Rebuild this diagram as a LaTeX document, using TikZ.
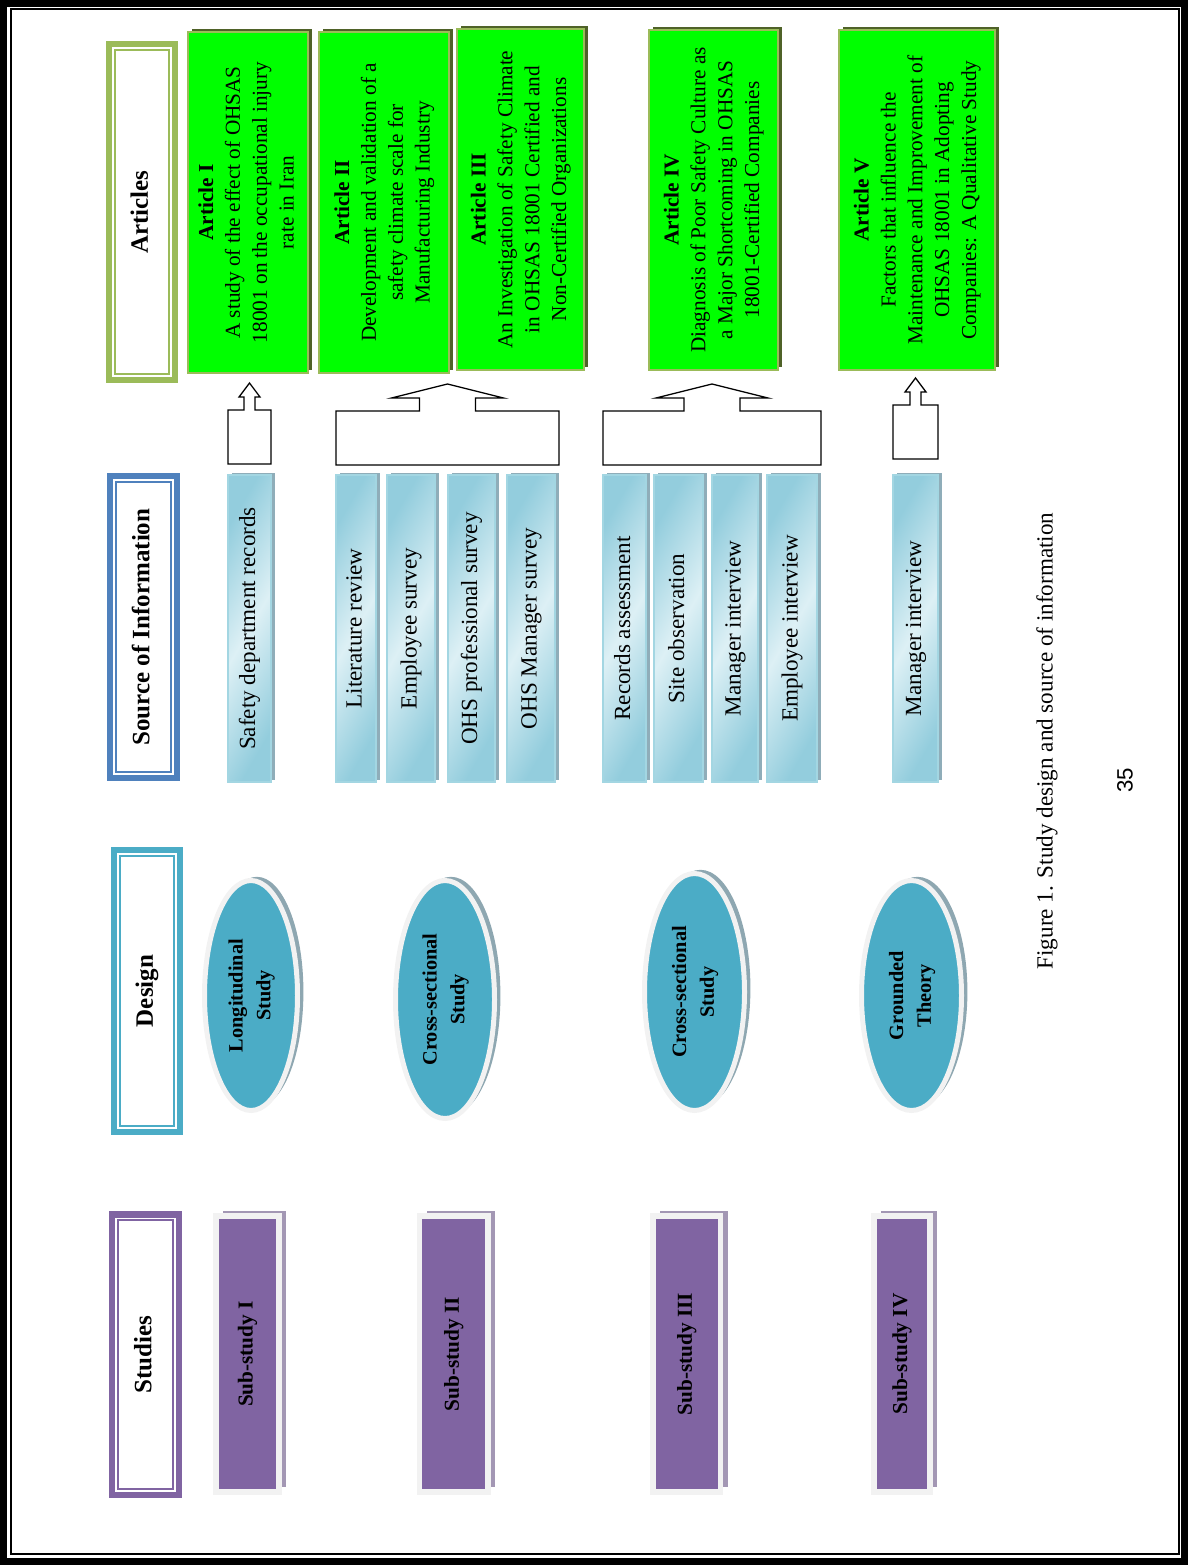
\documentclass[tikz,border=0pt]{standalone}
\usepackage{fontspec}
\setmainfont{Liberation Serif}
\setsansfont{Liberation Sans}
\usepackage{graphicx}
\usetikzlibrary{shapes.geometric,shadows,calc}

\definecolor{artgreen}{HTML}{00FF00}
\definecolor{artedge}{HTML}{9BBB59}
\definecolor{artshadow}{HTML}{4F6228}
\definecolor{hdrgreen}{HTML}{9BBB59}
\definecolor{hdrblue}{HTML}{4F81BD}
\definecolor{hdrteal}{HTML}{4BACC6}
\definecolor{hdrpurple}{HTML}{8064A2}
\definecolor{bardark}{HTML}{93CDDD}
\definecolor{barlight}{HTML}{DDF0F5}
\definecolor{baredge}{HTML}{A3D6E2}
\definecolor{barshadow}{HTML}{8FADB9}
\definecolor{desteal}{HTML}{4BACC6}
\definecolor{desshadow}{HTML}{8EA7B1}
\definecolor{rimgray}{HTML}{F2F2F2}
\definecolor{subpurple}{HTML}{8064A2}
\definecolor{subshadow}{HTML}{A397B4}

\newcommand{\pxu}{0.019cm}
\newcommand{\vlines}[1]{\rotatebox{90}{\begin{tabular}{@{}c@{}}#1\end{tabular}}}

% single block arrow standing on one bar
\newcommand{\liftarrow}[2]{%
  \coordinate (bl) at ($(#1.north west)+(0,-#2)$);
  \coordinate (br) at ($(#1.north east)+(0,-#2)$);
  \coordinate (bm) at ($(bl)!0.5!(br)$);
  \draw[blockarrow] (bl) -- ++(0,-54) -- ($(bm)+(-5.5,-54)$) -- ++(0,-13) -- ++(-5,0)
    -- ($(bm)+(0,-81)$) -- ($(bm)+(10.5,-67)$) -- ++(-5,0) -- ++(0,13)
    -- ($(br)+(0,-54)$) -- (br) -- cycle;}

% wide block arrow over a group of bars
\newcommand{\fanarrow}[2]{%
  \coordinate (bl) at ($(#1.north west)+(0,-10)$);
  \coordinate (br) at ($(#2.north east)+(4,-10)$);
  \coordinate (bm) at ($(bl)!0.5!(br)$);
  \draw[blockarrow] (bl) -- ++(0,-54) -- ($(bm)+(-28,-54)$) -- ++(0,-13) -- ++(-28,0)
    -- ($(bm)+(0,-81)$) -- ($(bm)+(56,-67)$) -- ++(-28,0) -- ++(0,13)
    -- ($(br)+(0,-54)$) -- (br) -- cycle;}

\begin{document}
\begin{tikzpicture}[x=0.019cm, y=-0.019cm,
    sz/.style 2 args={minimum width=#1*\pxu, minimum height=#2*\pxu},
    hdr/.style={draw=#1, line width=3.5pt, fill=white, inner sep=0pt, outer sep=0pt,
      font=\fontsize{13.5}{16}\selectfont\bfseries},
    hdrin/.style={draw=#1, line width=1.1pt},
    article/.style={draw=artedge, line width=0.8pt, fill=artgreen, inner sep=0pt,
      font=\fontsize{11.5}{14.5}\selectfont,
      general shadow={fill=artshadow, shadow xshift=2.2pt, shadow yshift=1.6pt}},
    srcbar/.style={draw=baredge, line width=0.8pt, left color=bardark, right color=bardark,
      middle color=barlight, shading angle=60, inner sep=0pt, outer sep=0pt,
      font=\fontsize{12.5}{15}\selectfont,
      general shadow={fill=barshadow, shadow xshift=2.4pt, shadow yshift=1.2pt}},
    design/.style={ellipse, draw=rimgray, line width=2.7pt, fill=desteal, inner sep=0pt,
      font=\fontsize{11}{15}\selectfont\bfseries,
      general shadow={fill=desshadow, shadow xshift=3.2pt, shadow yshift=2pt}},
    substudy/.style={draw=rimgray, line width=3.2pt, fill=subpurple, inner sep=0pt,
      font=\fontsize{11.5}{14}\selectfont\bfseries,
      general shadow={fill=subshadow, shadow xshift=3.8pt, shadow yshift=2.7pt}},
    blockarrow/.style={draw=black, line width=0.7pt, fill=white}]

  \useasboundingbox (0,0) rectangle (1188,1565);
  \draw[line width=3.8pt] (3.5,3.5) rectangle (1184.5,1561.5);
  \draw[line width=1.1pt] (11,9) rectangle (1179,1554);

  % column headers
  \node[hdr=hdrgreen, sz={65.5}{335.5}] (hart) at (142,212) {\vlines{Articles}};
  \node[hdr=hdrblue, sz={66.5}{301.5}] (hsrc) at (143.5,627) {\vlines{Source of Information}};
  \node[hdr=hdrteal, sz={65.5}{281.5}] (hdes) at (147,991) {\vlines{Design}};
  \node[hdr=hdrpurple, sz={66.5}{280.5}] (hstu) at (145.5,1354.5) {\vlines{Studies}};
  \foreach \h/\c in {hart/hdrgreen, hsrc/hdrblue, hdes/hdrteal, hstu/hdrpurple}
    \draw[hdrin=\c] ($(\h.north west)+(6,6)$) rectangle ($(\h.south east)+(-6,-6)$);

  % articles
  \node[article, sz={120}{341}] (art1) at (248,202.5)
    {\vlines{\textbf{Article I}\\A study of the effect of OHSAS\\18001 on the occupational injury\\rate in Iran}};
  \node[article, sz={130}{341}] (art2) at (384,202.5)
    {\vlines{\textbf{Article II}\\Development and validation of a\\safety climate scale for\\Manufacturing Industry}};
  \node[article, sz={127}{341}] (art3) at (520.5,199.5)
    {\vlines{\textbf{Article III}\\An Investigation of Safety Climate\\in OHSAS 18001 Certified and\\Non-Certified Organizations}};
  \node[article, sz={129}{340}] (art4) at (713.5,200)
    {\vlines{\textbf{Article IV}\\Diagnosis of Poor Safety Culture as\\a Major Shortcoming in OHSAS\\18001-Certified Companies}};
  \node[article, sz={156}{340}] (art5) at (917,200)
    {\vlines{\textbf{Article V}\\Factors that influence the\\Maintenance and Improvement of\\OHSAS 18001 in Adopting\\Companies: A Qualitative Study}};

  % sources of information
  \node[srcbar, sz={43}{307}] (sdr) at (249.5,628.5) {\vlines{Safety department records}};
  \node[srcbar, sz={40}{307}] (lit) at (356,628.5) {\vlines{Literature review}};
  \node[srcbar, sz={48}{307}] (emps) at (411,628.5) {\vlines{Employee survey}};
  \node[srcbar, sz={47}{307}] (ohsp) at (471.5,628.5) {\vlines{OHS professional survey}};
  \node[srcbar, sz={48}{307}] (ohsm) at (531,628.5) {\vlines{OHS Manager survey}};
  \node[srcbar, sz={43}{307}] (reca) at (624.5,628.5) {\vlines{Records assessment}};
  \node[srcbar, sz={49}{307}] (site) at (678.5,628.5) {\vlines{Site observation}};
  \node[srcbar, sz={46}{307}] (mgri) at (735,628.5) {\vlines{Manager interview}};
  \node[srcbar, sz={50}{307}] (empi) at (792,628.5) {\vlines{Employee interview}};
  \node[srcbar, sz={45}{307}] (mgrt) at (915.5,628.5) {\vlines{Manager interview}};

  \liftarrow{sdr}{11}
  \fanarrow{lit}{ohsm}
  \fanarrow{reca}{empi}
  \liftarrow{mgrt}{16}

  % design
  \node[design, sz={93}{230}] (des1) at (251,995.5) {\vlines{Longitudinal\\Study}};
  \node[design, sz={99}{238}] (des2) at (445,999.5) {\vlines{Cross-sectional\\Study}};
  \node[design, sz={100}{237}] (des3) at (694.5,992) {\vlines{Cross-sectional\\Study}};
  \node[design, sz={100}{230}] (des4) at (911.5,995.5) {\vlines{Grounded\\Theory}};

  % studies
  \node[substudy, sz={63}{276.5}] (sub1) at (247.5,1354) {\vlines{Sub-study I}};
  \node[substudy, sz={68.5}{276.5}] (sub2) at (453.75,1354) {\vlines{Sub-study II}};
  \node[substudy, sz={67.5}{276.5}] (sub3) at (686.75,1354) {\vlines{Sub-study III}};
  \node[substudy, sz={56}{276.5}] (sub4) at (902,1354) {\vlines{Sub-study IV}};

  \node[rotate=90, font=\fontsize{12.5}{15}\selectfont] (cap) at (1047,741)
    {Figure 1. Study design and source of information};
  \node[rotate=90, font=\sffamily\fontsize{12}{14}\selectfont] (pnum) at (1125,780) {35};
\end{tikzpicture}
\end{document}
